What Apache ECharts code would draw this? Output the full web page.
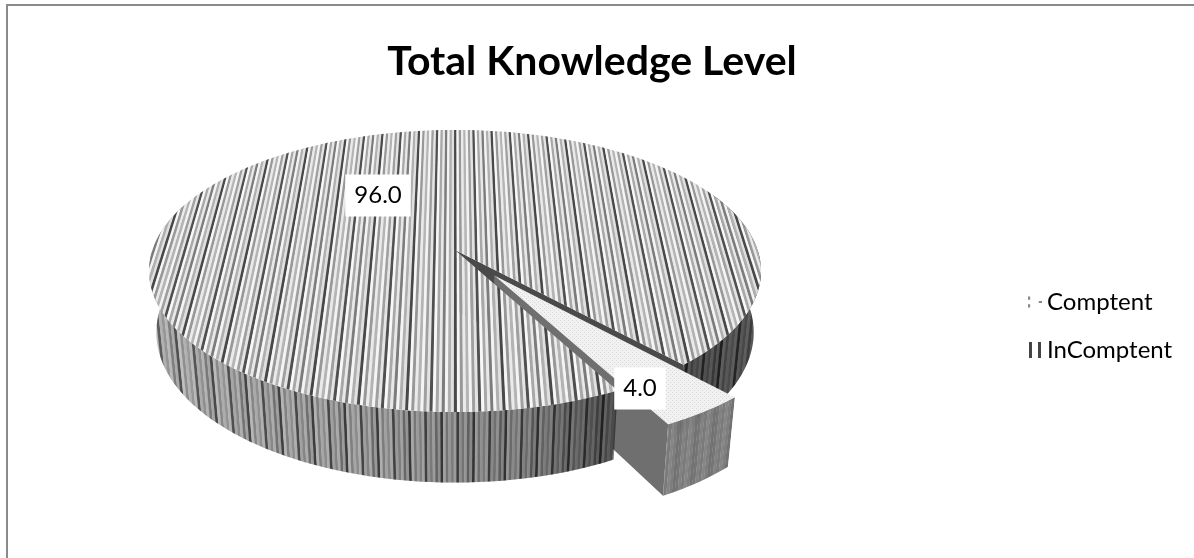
<!DOCTYPE html>
<html>
<head>
<meta charset="utf-8">
<title>Total Knowledge Level</title>
<script src="https://cdn.jsdelivr.net/npm/echarts@6/dist/echarts.min.js"></script>
<style>
html, body { margin: 0; padding: 0; background: #fff; }
#chart { width: 1194px; height: 558px; }
</style>
</head>
<body>
<div id="chart"></div>
<script>
// 数据
const categories = ['Comptent', 'InComptent']
const percentValues = [4.0, 96.0]

// 3D pie look: ground plane -> screen with a small perspective
const cx = 455, cy = 250, R = 302.6, H = 137.9, persp = 0.149, depth = 60
const narrow = 0.0004 // walls lean inwards going down
const midAngle = 55 // centre of the pulled out slice, clockwise from east
const pullOut = 0.22

const total = percentValues.reduce((a, b) => a + b, 0)
const sweep = percentValues[0] / total * 360
const a0 = midAngle - sweep / 2
const a1 = midAngle + sweep / 2
const rad = d => d * Math.PI / 180
const ox = Math.cos(rad(midAngle)) * pullOut
const oy = Math.sin(rad(midAngle)) * pullOut

function project(u, v, drop) {
  const s = 1 / (1 - persp * v)
  const d = drop || 0
  return [cx + R * u * s * (1 - narrow * d), cy + H * v * s + d * s]
}
function rim(angle, dx, dy, drop) {
  return project(Math.cos(rad(angle)) + dx, Math.sin(rad(angle)) + dy, drop)
}
function arc(from, to, dx, dy, drop) {
  const pts = []
  const n = Math.max(2, Math.ceil(Math.abs(to - from) / 2))
  for (let i = 0; i <= n; i++) pts.push(rim(from + (to - from) * i / n, dx, dy, drop))
  return pts
}

// 竖条纹
const topShades = ['#f4f4f4', '#a0a0a0', '#e4e4e4', '#505050', '#f8f8f8', '#a8a8a8', '#e8e8e8', '#7c7c7c', '#f4f4f4', '#b0b0b0', '#e0e0e0', '#484848', '#f6f6f6', '#989898', '#eaeaea', '#b4b4b4']
const wallShades = ['#bcbcbc', '#868686', '#aeaeae', '#929292', '#b6b6b6', '#484848', '#a8a8a8', '#8a8a8a', '#b2b2b2', '#727272', '#a4a4a4', '#3e3e3e']

function topStripes(clip, z2) {
  const step = 2.6 / R
  const children = []
  let i = 0
  for (let u = -1.06; u < 1.06; u += step, i++) {
    children.push({
      type: 'polygon',
      z2: z2,
      shape: { points: [project(u, -1.1), project(u + step + 0.001, -1.1), project(u + step + 0.001, 1.1), project(u, 1.1)] },
      style: { fill: topShades[i % topShades.length] }
    })
  }
  return { type: 'group', clipPath: { type: 'polygon', shape: { points: clip } }, children: children }
}

function wallStripes(clip, z2, left, right, shades, w) {
  const children = []
  const lean = (x, y) => cx + (x - cx) * (1 - narrow * 0.9 * (y - 300))
  let i = 0
  for (let x = left; x < right; x += w, i++) {
    children.push({
      type: 'polygon',
      z2: z2,
      shape: { points: [[lean(x, 120), 120], [lean(x + w + 0.3, 120), 120], [lean(x + w + 0.3, 520), 520], [lean(x, 520), 520]] },
      style: { fill: shades[i % shades.length] }
    })
  }
  return { type: 'group', clipPath: { type: 'polygon', shape: { points: clip } }, children: children }
}

function overlay(points, z2, stops, x1, x2) {
  return {
    type: 'polygon',
    z2: z2,
    shape: { points: points },
    style: {
      fill: { type: 'linear', x: x1, y: 0, x2: x2, y2: 0, global: true, colorStops: stops }
    }
  }
}

function wallShape(from, to, dx, dy) {
  return arc(from, to, dx, dy, 0).concat(arc(to, from, dx, dy, depth))
}

function dotCanvas() {
  const c = document.createElement('canvas')
  c.width = 4
  c.height = 4
  const g = c.getContext('2d')
  g.fillStyle = '#f1f1f1'
  g.fillRect(0, 0, 4, 4)
  g.fillStyle = '#d8d8d8'
  g.fillRect(0, 0, 1, 1)
  g.fillRect(2, 2, 1, 1)
  return c
}

function valueLabel(text, x, y, z2) {
  return {
    type: 'text',
    z2: z2,
    x: x,
    y: y,
    style: {
      text: text,
      fill: '#000',
      font: '24px Lato',
      align: 'center',
      verticalAlign: 'middle',
      backgroundColor: '#fff',
      padding: [9, 9, 9, 9]
    }
  }
}

// 被拉出的小块
function renderSmall() {
  const apex = project(ox, oy)
  const apexLow = project(ox, oy, depth)
  const c1 = rim(a1, ox, oy)
  const c1Low = rim(a1, ox, oy, depth)
  const outer = wallShape(a0, a1, ox, oy)
  const topFace = [apex].concat(arc(a0, a1, ox, oy))
  return {
    type: 'group',
    children: [
      { type: 'polygon', z2: 20, shape: { points: [apex, c1, c1Low, apexLow] }, style: { fill: '#6f6f6f' } },
      wallStripes(outer, 21, 655, 745, ['#757575', '#828282', '#7a7a7a', '#868686', '#7e7e7e', '#727272'], 3),
      { type: 'polygon', z2: 22, shape: { points: topFace }, style: { fill: { image: dotCanvas(), repeat: 'repeat' } } },
      valueLabel(percentValues[0].toFixed(1), 640, 388.5, 50)
    ]
  }
}

// 大块分成前后两部分, 小块夹在中间
function renderBig() {
  const center = project(0, 0)
  const centerLow = project(0, 0, depth)
  const backTop = [center].concat(arc(-95, a0, 0, 0))
  const frontTop = [center].concat(arc(a1, 270, 0, 0))
  const backWall = wallShape(-25, a0, 0, 0)
  const frontWall = wallShape(a1, 200, 0, 0)
  const e0 = rim(a0, 0, 0)
  const e0Low = rim(a0, 0, 0, depth)
  return {
    type: 'group',
    children: [
      wallStripes(backWall, 1, 660, 770, wallShades, 2.8),
      overlay(backWall, 2, [{ offset: 0, color: 'rgba(0,0,0,0.55)' }, { offset: 1, color: 'rgba(0,0,0,0.45)' }], 680, 770),
      { type: 'polygon', z2: 3, shape: { points: [center, e0, e0Low, centerLow] }, style: { fill: '#4a4a4a' } },
      topStripes(backTop, 4),
      wallStripes(frontWall, 30, 140, 620, wallShades, 2.8),
      overlay(frontWall, 31, [
        { offset: 0, color: 'rgba(255,255,255,0.12)' },
        { offset: 0.45, color: 'rgba(0,0,0,0.05)' },
        { offset: 0.8, color: 'rgba(0,0,0,0.22)' },
        { offset: 1, color: 'rgba(0,0,0,0.5)' }
      ], 148, 615),
      topStripes(frontTop, 32),
      valueLabel(percentValues[1].toFixed(1), 378, 195.5, 50)
    ]
  }
}

const myChart = echarts.init(document.getElementById('chart'), null, { renderer: 'canvas' })

const option = {
  animation: false,
  backgroundColor: '#fff',
  title: {
    text: 'Total Knowledge Level',
    left: 587,
    top: 36,
    textAlign: 'center',
    textStyle: { fontFamily: 'Lato', fontSize: 41, fontWeight: 'bold', color: '#000' }
  },
  legend: {
    orient: 'vertical',
    left: 1023,
    top: 285,
    itemWidth: 14,
    itemHeight: 16,
    itemGap: 24,
    selectedMode: false,
    textStyle: { fontFamily: 'Lato', fontSize: 24, color: '#000' },
    data: [
      { name: categories[0], icon: 'path://M0 2h2v3H0z M0 9h2v3H0z M10 6h3v2h-3z', itemStyle: { color: '#888' } },
      { name: categories[1], icon: 'path://M0 0h3v16H0z M9 0h3v16H9z', itemStyle: { color: '#444' } }
    ]
  },
  series: [
    {
      name: categories[0],
      type: 'custom',
      coordinateSystem: 'none',
      silent: true,
      data: [percentValues[0]],
      renderItem: renderSmall
    },
    {
      name: categories[1],
      type: 'custom',
      coordinateSystem: 'none',
      silent: true,
      data: [percentValues[1]],
      renderItem: renderBig
    }
  ],
  graphic: [
    {
      type: 'polyline',
      silent: true,
      shape: { points: [[7, 558], [7, 5], [1194, 5]] },
      style: { fill: 'none', stroke: '#8a8a8a', lineWidth: 2 }
    }
  ]
}

myChart.setOption(option)
</script>
</body>
</html>
